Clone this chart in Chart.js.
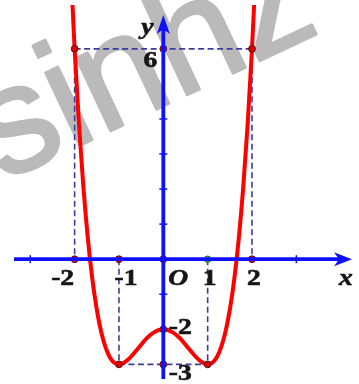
<!DOCTYPE html>
<html>
<head>
<meta charset="utf-8">
<script src="https://cdn.jsdelivr.net/npm/chart.js@4"></script>
<style>
  html, body { margin: 0; padding: 0; background: #ffffff; }
  #c { display: block; }
</style>
</head>
<body>
<canvas id="c" width="359" height="384"></canvas>
<script>
// ---- data ----
const curveX = [-2.2,-2.1,-2.0,-1.9,-1.8,-1.7,-1.6,-1.5,-1.4,-1.3,-1.2,-1.1,-1.0,-0.9,-0.8,-0.7,-0.6,-0.5,-0.4,-0.3,-0.2,-0.1,0,0.1,0.2,0.3,0.4,0.5,0.6,0.7,0.8,0.9,1.0,1.1,1.2,1.3,1.4,1.5,1.6,1.7,1.8,1.9,2.0,2.1,2.2];
const curveY = [11.75,8.63,6.0,3.81,2.02,0.57,-0.57,-1.44,-2.08,-2.52,-2.81,-2.96,-3.0,-2.96,-2.87,-2.74,-2.59,-2.44,-2.29,-2.17,-2.08,-2.02,-2.0,-2.02,-2.08,-2.17,-2.29,-2.44,-2.59,-2.74,-2.87,-2.96,-3.0,-2.96,-2.81,-2.52,-2.08,-1.44,-0.57,0.57,2.02,3.81,6.0,8.63,11.75];

const xTickValues = [-3, 3];
const yTickValues = [1, 2, 3, 4, -1];
const xLabelValues = [-2, -1, 1, 2];
const xLabelTexts = ['-2', '-1', '1', '2'];
const yLabelValues = [6, -2, -3];
const yLabelTexts = ['6', '-2', '-3'];

const guideStartX = [-2, -2, 2, -1, 1, -1];
const guideStartY = [6, 6, 6, 0, 0, -3];
const guideEndX   = [2, -2, 2, -1, 1, 1];
const guideEndY   = [6, 0, 0, -3, -3, -3];

const dotX = [-2, 0, 2, -2, -1, 0, 2, 0, -1, 0, 1];
const dotY = [6, 6, 6, 0, 0, 0, 0, -2, -3, -3, -3];
const greenDotX = [1];
const greenDotY = [0];

// ---- styles ----
const AXIS = '#1010ff';
const DASH = '#3d3d9e';
const xLabelShift = [-12, 7, 2, 2];
const yLabelPos = [[-13, 67], [17, 334], [17, 380]];

const datasets = [];
for (let i = 0; i < guideStartX.length; i++) {
  datasets.push({
    data: [{x: guideStartX[i], y: guideStartY[i]}, {x: guideEndX[i], y: guideEndY[i]}],
    borderColor: DASH, borderWidth: 1.6, borderDash: [6, 3.5],
    pointRadius: 0, order: 5, fill: false
  });
}
datasets.push({
  data: curveX.map((x, i) => ({x: x, y: curveY[i]})),
  borderColor: '#ff0000', borderWidth: 4, pointRadius: 0,
  cubicInterpolationMode: 'monotone', order: 2, fill: false
});
datasets.push({
  type: 'scatter',
  data: dotX.map((x, i) => ({x: x, y: dotY[i]})),
  backgroundColor: '#e00000', borderColor: '#5a1010', borderWidth: 1,
  pointRadius: 3.4, order: 0
});
datasets.push({
  type: 'scatter',
  data: greenDotX.map((x, i) => ({x: x, y: greenDotY[i]})),
  backgroundColor: '#22cc22', borderColor: '#2a6a2a', borderWidth: 1,
  pointRadius: 3.2, order: 0
});

const watermark = {
  id: 'watermark',
  beforeDatasetsDraw(chart) {
    const ctx = chart.ctx;
    ctx.save();
    ctx.translate(2, 182);
    ctx.rotate(-0.44);
    ctx.font = '152px "Liberation Sans"';
    ctx.fillStyle = '#bababa';
    ctx.strokeStyle = '#bababa';
    ctx.lineWidth = 3;
    ctx.lineJoin = 'round';
    ctx.fillText('sinhz', 0, 0);
    ctx.strokeText('sinhz', 0, 0);
    ctx.restore();
  }
};

const axesPlugin = {
  id: 'axesPlugin',
  afterDatasetsDraw(chart) {
    const ctx = chart.ctx;
    const xs = chart.scales.x, ys = chart.scales.y;
    const ox = xs.getPixelForValue(0), oy = ys.getPixelForValue(0);
    const L = chart.chartArea.left, R = chart.chartArea.right;
    const T = chart.chartArea.top, B = chart.chartArea.bottom;
    ctx.save();
    ctx.strokeStyle = AXIS; ctx.fillStyle = AXIS;
    ctx.lineWidth = 3.8;
    // x axis
    ctx.beginPath(); ctx.moveTo(L + 9, oy); ctx.lineTo(R - 12, oy); ctx.stroke();
    ctx.beginPath(); ctx.moveTo(R - 2, oy); ctx.lineTo(R - 20, oy - 7); ctx.lineTo(R - 15, oy); ctx.lineTo(R - 20, oy + 7); ctx.closePath(); ctx.fill();
    // y axis
    ctx.beginPath(); ctx.moveTo(ox, B); ctx.lineTo(ox, T + 22); ctx.stroke();
    ctx.beginPath(); ctx.moveTo(ox, T + 10); ctx.lineTo(ox - 6.5, T + 29); ctx.lineTo(ox, T + 24); ctx.lineTo(ox + 6.5, T + 29); ctx.closePath(); ctx.fill();
    // ticks
    ctx.lineWidth = 1.5;
    xTickValues.forEach(v => { const p = xs.getPixelForValue(v); ctx.beginPath(); ctx.moveTo(p, oy - 4); ctx.lineTo(p, oy + 4); ctx.stroke(); });
    yTickValues.forEach(v => { const p = ys.getPixelForValue(v); ctx.beginPath(); ctx.moveTo(ox - 4, p); ctx.lineTo(ox + 4, p); ctx.stroke(); });
    // labels
    ctx.fillStyle = '#151515';
    ctx.strokeStyle = '#151515';
    ctx.lineWidth = 0.6;
    ctx.textAlign = 'center'; ctx.textBaseline = 'alphabetic';
    const put = (t, x, y) => {
      ctx.save(); ctx.translate(x, y); ctx.scale(1.2, 1);
      ctx.fillText(t, 0, 0); ctx.strokeText(t, 0, 0);
      ctx.restore();
    };
    ctx.font = 'bold 23px "Liberation Serif"';
    xLabelValues.forEach((v, i) => put(xLabelTexts[i], xs.getPixelForValue(v) + xLabelShift[i], oy + 26));
    yLabelValues.forEach((v, i) => put(yLabelTexts[i], ox + yLabelPos[i][0], yLabelPos[i][1]));
    ctx.font = 'italic bold 23px "Liberation Serif"';
    put('O', ox + 15, oy + 26);
    put('x', R - 8, oy + 26);
    put('y', ox - 16, T + 29);
    ctx.restore();
  }
};

new Chart(document.getElementById('c'), {
  type: 'line',
  data: { datasets: datasets },
  options: {
    responsive: false, animation: false, events: [],
    layout: { padding: 0 },
    plugins: { legend: { display: false }, tooltip: { enabled: false } },
    scales: {
      x: { type: 'linear', min: -3.57, max: 4.30, display: false },
      y: { type: 'linear', min: -3.417, max: 7.25, display: false }
    }
  },
  plugins: [watermark, axesPlugin]
});
</script>
</body>
</html>
